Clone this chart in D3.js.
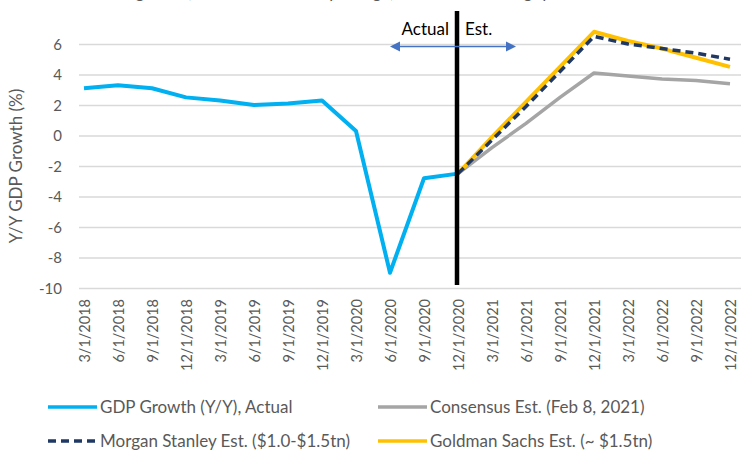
<!DOCTYPE html>
<html>
<head>
<meta charset="utf-8">
<script src="https://cdn.jsdelivr.net/npm/d3@7"></script>
<style>
  html, body { margin: 0; padding: 0; background: #fff; }
  svg { display: block; font-family: Lato, "Open Sans", sans-serif; }
</style>
</head>
<body>
<svg id="chart" width="741" height="452"></svg>
<script>
// ---- data ----
const categories = ["3/1/2018","6/1/2018","9/1/2018","12/1/2018","3/1/2019","6/1/2019","9/1/2019","12/1/2019",
  "3/1/2020","6/1/2020","9/1/2020","12/1/2020","3/1/2021","6/1/2021","9/1/2021","12/1/2021",
  "3/1/2022","6/1/2022","9/1/2022","12/1/2022"];
const actual    = [3.1, 3.3, 3.1, 2.5, 2.3, 2.0, 2.1, 2.3, 0.3, -9.0, -2.8, -2.5, null, null, null, null, null, null, null, null];
const consensus = [null, null, null, null, null, null, null, null, null, null, null, -2.5, -0.8, 0.8, 2.5, 4.1, 3.9, 3.7, 3.6, 3.4];
const morganStanley = [null, null, null, null, null, null, null, null, null, null, null, -2.5, -0.3, 1.9, 4.2, 6.5, 6.0, 5.7, 5.4, 5.0];
const goldmanSachs  = [null, null, null, null, null, null, null, null, null, null, null, -2.5, -0.1, 2.2, 4.5, 6.8, 6.2, 5.7, 5.1, 4.5];
const yTicks = [6, 4, 2, 0, -2, -4, -6, -8, -10];
const seriesNames = ["GDP Growth (Y/Y), Actual", "Consensus Est. (Feb 8, 2021)", "Morgan Stanley Est. ($1.0-$1.5tn)", "Goldman Sachs Est. (~ $1.5tn)"];
const yTitle = "Y/Y GDP Growth  (%)";
const splitCategory = "12/1/2020";
const topNote = "Estimates of GDP growth, with the stimulus package, across the coming quarters";

// ---- layout ----
const svg = d3.select("#chart");
const x = d3.scalePoint().domain(categories).range([84, 730]);
const y = d3.scaleLinear().domain([-10, 6]).range([288, 44]);
const gridX0 = 79, gridX1 = 741;
const textGrey = "#595959";

// clipped note at top (only its lowest pixels are in view, as in the reference)
svg.append("text").attr("x", 0).attr("y", -2).attr("font-size", 17).attr("fill", textGrey).text(topNote);

// gridlines
svg.append("g").selectAll("line").data(yTicks).join("line")
  .attr("x1", gridX0).attr("x2", gridX1)
  .attr("y1", d => y(d) + 0.5).attr("y2", d => y(d) + 0.5)
  .attr("stroke", "#D9D9D9").attr("stroke-width", 1.3);

// y axis labels
const yAxis = d3.axisLeft(y).tickValues(yTicks).tickSize(0).tickPadding(0).tickFormat(d => String(d));
const gy = svg.append("g").attr("transform", "translate(62,0)").call(yAxis);
gy.select(".domain").remove();
gy.selectAll("text").attr("font-size", 15).attr("fill", textGrey).attr("font-family", "Lato, sans-serif").attr("dy", "0.35em");

// x axis labels
const xAxis = d3.axisBottom(x).tickSize(0).tickPadding(0);
const gx = svg.append("g").attr("transform", "translate(0,299)").call(xAxis);
gx.select(".domain").remove();
gx.selectAll("text")
  .attr("font-size", 14.5).attr("fill", textGrey).attr("font-family", "Lato, sans-serif")
  .attr("transform", "rotate(-90)")
  .attr("text-anchor", "end").attr("x", 0).attr("y", 0).attr("dy", "0.35em").attr("dx", "0");

// y title
svg.append("text")
  .attr("transform", "translate(22,166) rotate(-90)")
  .attr("text-anchor", "middle").attr("font-size", 17).attr("fill", textGrey)
  .text(yTitle);

// lines
const line = d3.line().defined(d => d[1] != null).x(d => x(d[0])).y(d => y(d[1]));
const series = [
  { vals: consensus, color: "#A5A5A5", dash: null, w: 3.5 },
  { vals: goldmanSachs, color: "#FFC000", dash: null, w: 4 },
  { vals: morganStanley, color: "#203864", dash: "8,5", w: 3.5 },
  { vals: actual, color: "#00B0F0", dash: null, w: 4 }
];
series.forEach(s => {
  svg.append("path")
    .datum(categories.map((c, i) => [c, s.vals[i]]))
    .attr("d", line)
    .attr("fill", "none").attr("stroke", s.color).attr("stroke-width", s.w)
    .attr("stroke-linejoin", "round")
    .attr("stroke-dasharray", s.dash);
});

// split line and annotation
const sx = x(splitCategory) - 1;
svg.append("line").attr("x1", sx).attr("x2", sx).attr("y1", 11).attr("y2", 285)
  .attr("stroke", "#000").attr("stroke-width", 4.5);
// double arrow
const arrowY = 46.5;
svg.append("line").attr("x1", sx - 58).attr("x2", sx + 50).attr("y1", arrowY).attr("y2", arrowY)
  .attr("stroke", "#4472C4").attr("stroke-width", 1.3);
svg.append("path").attr("d", `M${sx-67},${arrowY} l10,-5 l0,10 z`).attr("fill", "#4472C4");
svg.append("path").attr("d", `M${sx+59},${arrowY} l-10,-5 l0,10 z`).attr("fill", "#4472C4");
svg.append("text").attr("x", sx - 8).attr("y", 35).attr("text-anchor", "end")
  .attr("font-size", 17).attr("fill", "#000").text("Actual");
svg.append("text").attr("x", sx + 8).attr("y", 35).attr("text-anchor", "start")
  .attr("font-size", 17).attr("fill", "#000").text("Est.");

// legend
const legendItems = [
  { name: seriesNames[0], color: "#00B0F0", dash: null, lx: 48, ly: 407 },
  { name: seriesNames[1], color: "#A5A5A5", dash: null, lx: 378, ly: 407 },
  { name: seriesNames[2], color: "#203864", dash: "8,5", lx: 48, ly: 441 },
  { name: seriesNames[3], color: "#FFC000", dash: null, lx: 378, ly: 441 }
];
const lg = svg.append("g").selectAll("g").data(legendItems).join("g")
  .attr("transform", d => `translate(${d.lx},${d.ly})`);
lg.append("line").attr("x1", 0).attr("x2", 49).attr("y1", 0).attr("y2", 0)
  .attr("stroke", d => d.color).attr("stroke-width", 3.5)
  .attr("stroke-dasharray", d => d.dash);
lg.append("text").attr("x", 52).attr("y", 0).attr("dy", "0.35em")
  .attr("font-size", 17).attr("fill", textGrey).text(d => d.name);
</script>
</body>
</html>
